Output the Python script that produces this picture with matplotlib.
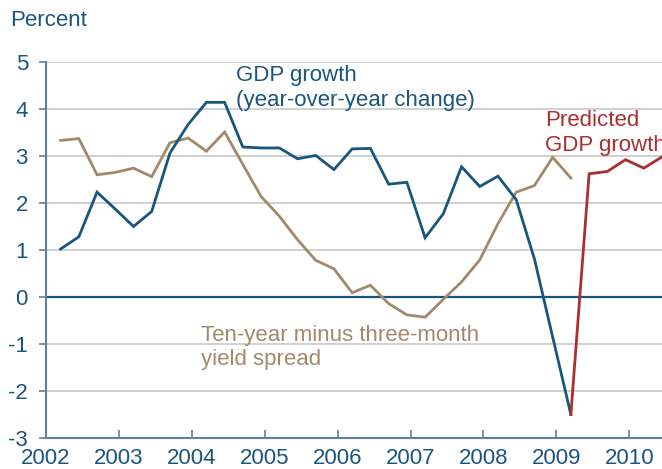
import numpy as np
import matplotlib
matplotlib.use("Agg")
import matplotlib.pyplot as plt

plt.rcParams['font.family'] = ['Liberation Sans', 'DejaVu Sans']

# ---- data (quarterly, first observation 2002Q1) ----
start_year = 2002.2
gdp_growth = [1.02, 1.28, 2.23, 1.87, 1.50, 1.82, 3.06, 3.67, 4.14, 4.14,
              3.19, 3.17, 3.17, 2.94, 3.01, 2.71, 3.15, 3.16, 2.40, 2.44,
              1.26, 1.77, 2.77, 2.35, 2.57, 2.07, 0.81, -0.85, -2.50]
yield_spread = [3.33, 3.37, 2.60, 2.65, 2.74, 2.56, 3.28, 3.38, 3.10, 3.51,
                2.82, 2.14, 1.72, 1.22, 0.78, 0.60, 0.09, 0.25, -0.14, -0.38,
                -0.43, -0.05, 0.32, 0.79, 1.56, 2.23, 2.37, 2.97, 2.53]
predicted_gdp = [-2.50, 2.62, 2.67, 2.92, 2.74, 2.98]
year_ticks = [2002, 2003, 2004, 2005, 2006, 2007, 2008, 2009, 2010]
y_ticks = [-3, -2, -1, 0, 1, 2, 3, 4, 5]

x_hist = start_year + 0.25 * np.arange(len(gdp_growth))
x_pred = start_year + 0.25 * (len(gdp_growth) - 1 + np.arange(len(predicted_gdp)))

BLUE = '#17577f'
TEXT = '#1a5580'
BROWN = '#a3896b'
RED = '#a8302f'
GRID = '#c8c8c8'
SPINE = '#5d819b'
FS = 16

fig = plt.figure(figsize=(6.62, 4.69), dpi=100)
ax = fig.add_axes([0.0695, 0.066, 0.9305, 0.802])

for v in y_ticks:
    if v not in (0, -3):
        ax.axhline(v, color=GRID, lw=1.2, zorder=1)
ax.axhline(0, color=BLUE, lw=1.6, zorder=2)

ax.plot(x_hist, yield_spread, color=BROWN, lw=2.0, zorder=3, solid_joinstyle='miter')
ax.plot(x_hist, gdp_growth, color=BLUE, lw=2.0, zorder=4, solid_joinstyle='miter')
ax.plot(x_pred, predicted_gdp, color=RED, lw=2.0, zorder=4, solid_joinstyle='miter')

ax.set_xlim(2002, 2010.45)
ax.set_ylim(-3, 5)
ax.set_xticks(year_ticks)
ax.set_xticklabels([str(y) for y in year_ticks])
ax.set_yticks(y_ticks)
ax.set_yticklabels([str(v) for v in y_ticks])

for s in ['top', 'right']:
    ax.spines[s].set_visible(False)
for s in ['left', 'bottom']:
    ax.spines[s].set_color(SPINE)
    ax.spines[s].set_linewidth(1.5)

ax.tick_params(axis='y', direction='out', length=5, width=1.2, color=SPINE,
               labelsize=FS, labelcolor=TEXT, pad=8)
ax.tick_params(axis='x', direction='in', length=6, width=1.2, color=SPINE,
               labelsize=FS, labelcolor=TEXT, pad=7)

fig.text(10 / 662, 1 - 20 / 469, 'Percent', fontsize=FS, color=TEXT,
         ha='left', va='center')

ax.text(2004.6, 4.93, 'GDP growth\n(year-over-year change)', fontsize=FS,
        color=TEXT, ha='left', va='top', linespacing=1.25)
ax.text(2008.85, 3.97, 'Predicted\nGDP growth', fontsize=FS, color=RED,
        ha='left', va='top', linespacing=1.25, clip_on=False)
ax.text(2004.12, -0.6, 'Ten-year minus three-month\nyield spread', fontsize=FS,
        color=BROWN, ha='left', va='top', linespacing=1.2)

fig.savefig('out.png', dpi=100)
